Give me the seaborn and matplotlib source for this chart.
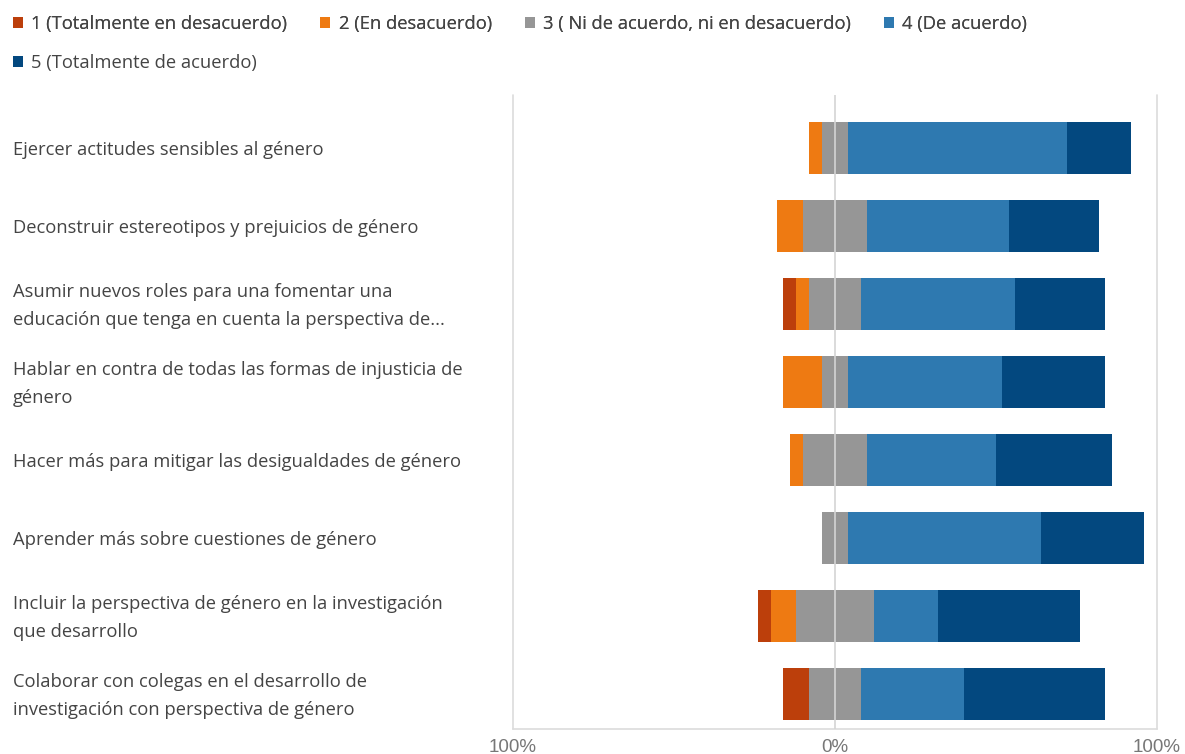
import matplotlib
matplotlib.use("Agg")
import matplotlib.pyplot as plt
import matplotlib.transforms as mtransforms
import seaborn as sns
import pandas as pd
from matplotlib.patches import Patch

# items (top to bottom)
items = [
    "Ejercer actitudes sensibles al género",
    "Deconstruir estereotipos y prejuicios de género",
    "Asumir nuevos roles para una fomentar una\neducación que tenga en cuenta la perspectiva de...",
    "Hablar en contra de todas las formas de injusticia de\ngénero",
    "Hacer más para mitigar las desigualdades de género",
    "Aprender más sobre cuestiones de género",
    "Incluir la perspectiva de género en la investigación\nque desarrollo",
    "Colaborar con colegas en el desarrollo de\ninvestigación con perspectiva de género",
]

# percentages per answer
totally_disagree = [0, 0, 4, 0, 0, 0, 4, 8]
disagree = [4, 8, 4, 12, 4, 0, 8, 0]
neutral = [8, 20, 16, 8, 20, 8, 24, 16]
agree = [68, 44, 48, 48, 40, 60, 20, 32]
totally_agree = [20, 28, 28, 32, 36, 32, 44, 44]

legend_labels = [
    "1 (Totalmente en desacuerdo)",
    "2 (En desacuerdo)",
    "3 ( Ni de acuerdo, ni en desacuerdo)",
    "4 (De acuerdo)",
    "5 (Totalmente de acuerdo)",
]
colors = ["#BC3F0B", "#EE7A12", "#969696", "#2E79B0", "#03487F"]

df = pd.DataFrame({
    "item": items,
    "sd": totally_disagree, "d": disagree, "n": neutral,
    "a": agree, "sa": totally_agree,
})

# diverging layout: neutral split around zero, draw outer layers first
half = df["n"] / 2
layers = [
    (half + df["a"] + df["sa"], colors[4]),
    (half + df["a"], colors[3]),
    (-(half + df["d"] + df["sd"]), colors[0]),
    (-(half + df["d"]), colors[1]),
    (half, colors[2]),
    (-half, colors[2]),
]

sns.set_style("white")
plt.rcParams["font.family"] = ["Open Sans", "DejaVu Sans"]

fig = plt.figure(figsize=(11.85, 7.54), dpi=100)
ax = fig.add_axes([513 / 1185, 25 / 754, 644 / 1185, 634 / 754])

for vals, c in layers:
    sns.barplot(x=vals, y=df["item"], orient="h", color=c, saturation=1,
                width=0.66, linewidth=0, ax=ax)

for xv in [-100, 100]:
    ax.axvline(xv, color="#dcdcdc", lw=1.2, zorder=0, clip_on=False)
ax.axvline(0, color="#d4d4d4", lw=1.2, zorder=5)

ax.set_xlim(-100, 100)
ax.set_ylim(7.45, -0.68)
ax.set_xticks([-100, 0, 100])
ax.set_xticklabels(["100%", "0%", "100%"], fontsize=13.5, color="#777777",
                   family="Liberation Sans")
ax.set_yticks(range(len(items)))
ax.set_yticklabels(items, ha="left", va="center", fontsize=13.2, color="#444444",
                   linespacing=1.7)
ax.tick_params(axis="y", length=0, pad=500 / 100 * 72)
ax.tick_params(axis="x", length=0, pad=7)
# nudge the item labels down a touch
shift = mtransforms.ScaledTranslation(0, -2 / 100, fig.dpi_scale_trans)
for lbl in ax.get_yticklabels():
    lbl.set_transform(lbl.get_transform() + shift)
ax.set_xlabel("")
ax.set_ylabel("")
for s in ["top", "left", "right"]:
    ax.spines[s].set_visible(False)
ax.spines["bottom"].set_color("#dcdcdc")
ax.spines["bottom"].set_linewidth(1.2)

handles = [Patch(facecolor=c, edgecolor="none") for c in colors]
leg_kw = dict(frameon=False, fontsize=13.2, handlelength=0.55, handleheight=0.55,
              handletextpad=0.45, columnspacing=1.8, borderpad=0, borderaxespad=0,
              labelcolor="#444444", loc="center left")
leg1 = fig.legend(handles[:4], legend_labels[:4], ncol=4,
                  bbox_to_anchor=(13 / 1185, 1 - 24 / 754), **leg_kw)
fig.add_artist(leg1)
fig.legend(handles[4:], legend_labels[4:], ncol=1,
           bbox_to_anchor=(13 / 1185, 1 - 63 / 754), **leg_kw)

fig.savefig("out.png", dpi=100)
